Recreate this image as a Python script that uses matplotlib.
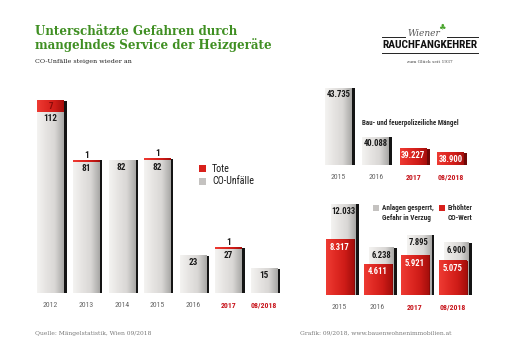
import numpy as np
import matplotlib
matplotlib.use('Agg')
import matplotlib.pyplot as plt
from matplotlib import font_manager
from matplotlib.colors import LinearSegmentedColormap
from matplotlib.patches import Rectangle

W, H = 512, 362

# --- data ---
years_l = ['2012', '2013', '2014', '2015', '2016', '2017', '08/2018']
co_unfaelle = [112, 81, 82, 82, 23, 27, 15]
tote = [7, 1, 0, 1, 0, 1, 0]

years_r = ['2015', '2016', '2017', '08/2018']
maengel = [43735, 40088, 39227, 38900]
gesperrt = [12033, 6238, 7895, 6900]
co_wert = [8317, 4611, 5921, 5075]

GREEN = '#3f8f22'
RED = '#d8201b'
SERIF = ['DejaVu Serif']

# pick a condensed family if one is installed, else shrink DejaVu Sans
installed = {f.name for f in font_manager.fontManager.ttflist}
narrow_name = None
for cand in ['Liberation Sans Narrow', 'DejaVu Sans Condensed', 'Roboto Condensed',
             'Open Sans Condensed', 'Noto Sans Condensed', 'Arial Narrow']:
    if cand in installed:
        narrow_name = cand
        break
NARROW = [narrow_name or 'DejaVu Sans', 'DejaVu Sans']
NS = 1.0 if narrow_name else 0.82   # size factor for narrow text

gray_cm = LinearSegmentedColormap.from_list('g', ['#f4f3f1', '#e6e4e2', '#d9d7d5', '#a9a8a6'])
red_cm = LinearSegmentedColormap.from_list('r', ['#ee3b33', '#e02a24', '#cf1c18', '#a50f0c'])
grad = np.linspace(0, 1, 64).reshape(1, -1)


def fmt(v):
    return f'{v:,}'.replace(',', '.')


def px_axes(l, t, r, b):
    ax = fig.add_axes([l / W, 1 - b / H, (r - l) / W, (b - t) / H])
    ax.set_axis_off()
    return ax


def ftext(x, y, s, **kw):
    fig.text(x / W, 1 - y / H, s, **kw)


def fbox(x0, y0, x1, y1, color):
    fig.add_artist(Rectangle((x0 / W, 1 - y1 / H), (x1 - x0) / W, (y1 - y0) / H,
                             transform=fig.transFigure, color=color, lw=0))


def bar3d(ax, x, y0, h, w, cmap, shadow='#141414', sh=0.08, z=2):
    if shadow:
        ax.add_patch(Rectangle((x - w / 2 + sh, y0), w, h, color=shadow, lw=0, zorder=z - 0.5))
    ax.imshow(grad, cmap=cmap, extent=[x - w / 2, x + w / 2, y0, y0 + h],
              aspect='auto', zorder=z, interpolation='bilinear')


def year_labels(ax, years, y_px_off):
    for i, yr in enumerate(years):
        red = yr in ('2017', '08/2018')
        ax.annotate(yr, (i, 0), xycoords=('data', 'axes fraction'),
                    xytext=(0, -y_px_off * 0.72), textcoords='offset points',
                    ha='center', va='center', fontsize=5.6 * NS, family=NARROW,
                    color='#c8161d' if red else '#666666',
                    fontweight='bold' if red else 'normal')


fig = plt.figure(figsize=(W / 100, H / 100), dpi=100)
fig.patch.set_facecolor('white')

# --- left chart: CO-Unfaelle and Tote ---
ax1 = px_axes(25.6, 91, 289, 293)
for i, (c, t) in enumerate(zip(co_unfaelle, tote)):
    bar3d(ax1, i, 0, c + t, 0.74, gray_cm)
    if t:
        ax1.imshow(grad, cmap=red_cm, extent=[i - 0.37, i + 0.37, c, c + t],
                   aspect='auto', zorder=3)
    ax1.annotate(str(c), (i, c), xytext=(0, -1.5), textcoords='offset points',
                 ha='center', va='top', fontsize=6.6 * NS, fontweight='bold',
                 family=NARROW, color='#1a1a1a', zorder=5)
    if t > 2:
        ax1.annotate(str(t), (i, c + t / 2), ha='center', va='center', fontsize=6.6 * NS,
                     fontweight='bold', family=NARROW, color='#8a0c0a', zorder=5)
    elif t:
        ax1.annotate(str(t), (i, c + t), xytext=(0, 0.5), textcoords='offset points',
                     ha='center', va='bottom', fontsize=6.6 * NS, fontweight='bold',
                     family=NARROW, color='#1a1a1a', zorder=5)
ax1.set_xlim(-0.7, 6.7)
ax1.set_ylim(0, 125)
year_labels(ax1, years_l, 12)

# legend left
fbox(199, 165, 206, 172, RED)
fbox(199, 178, 206, 185, '#c4c2c0')
ftext(212, 168.5, 'Tote', fontsize=7.2 * NS, family=NARROW, va='center', color='#1a1a1a')
ftext(212, 181.5, 'CO-Unfälle', fontsize=7.2 * NS, family=NARROW, va='center',
      color='#1a1a1a')

# --- top right: Bau- und feuerpolizeiliche Maengel ---
ax2 = px_axes(312.4, 78, 476.6, 165)
base = 38000
for i, v in enumerate(maengel):
    is_red = i >= 2
    bar3d(ax2, i, base, v - base, 0.72, red_cm if is_red else gray_cm,
          shadow='#6e0907' if is_red else '#141414')
    ax2.annotate(fmt(v), (i, v), xytext=(0, -1.5), textcoords='offset points',
                 ha='center', va='top', fontsize=6.2 * NS, fontweight='bold', family=NARROW,
                 color='white' if is_red else '#1a1a1a', zorder=5)
ax2.set_xlim(-0.7, 3.7)
ax2.set_ylim(base, 44500)
year_labels(ax2, years_r, 12)
ftext(362, 123, 'Bau- und feuerpolizeiliche Mängel', fontsize=5 * NS, family=NARROW,
      fontweight='bold', va='center', color='#2a2a2a')

# --- bottom right: gesperrt vs erhoehter CO-Wert ---
ax3 = px_axes(313, 190, 479, 295)
ax3r = px_axes(313, 190, 479, 295)
for i, (g, r) in enumerate(zip(gesperrt, co_wert)):
    bar3d(ax3, i + 0.11, 0, g, 0.66, gray_cm)
    ax3.annotate(fmt(g), (i + 0.11, g), xytext=(0, -2), textcoords='offset points',
                 ha='center', va='top', fontsize=6.2 * NS, fontweight='bold', family=NARROW,
                 color='#1a1a1a', zorder=5)
    bar3d(ax3r, i, 0, r, 0.72, red_cm, shadow='#8a0b09', sh=0.05)
    ax3r.annotate(fmt(r), (i, r), xytext=(0, -2.5), textcoords='offset points',
                  ha='center', va='top', fontsize=6.2 * NS, fontweight='bold', family=NARROW,
                  color='white', zorder=5)
for a, top in ((ax3, 13900), (ax3r, 15620)):
    a.set_xlim(-0.7, 3.7)
    a.set_ylim(0, top)
year_labels(ax3, years_r, 12)

# legend bottom right
fbox(373, 205, 379, 211, '#c4c2c0')
fbox(439, 205, 445, 211, RED)
for y, a, b in ((208, 'Anlagen gesperrt,', 'Erhöhter'), (218, 'Gefahr in Verzug', 'CO-Wert')):
    ftext(382, y, a, fontsize=5.2 * NS, family=NARROW, fontweight='bold',
          va='center', color='#2a2a2a')
    ftext(448, y, b, fontsize=5.2 * NS, family=NARROW, fontweight='bold',
          va='center', color='#2a2a2a')

# --- titles ---
ftext(35, 25, 'Unterschätzte Gefahren durch\nmangelndes Service der Heizgeräte',
      fontsize=8.6, fontweight='bold', family=SERIF, color=GREEN, va='top',
      linespacing=1.05)
ftext(35, 62, 'CO-Unfälle steigen wieder an', fontsize=4.6, family=SERIF,
      color='#222222', va='center')

# logo
ftext(424, 33, 'Wiener', fontsize=6.5, family=SERIF, style='italic', color='#555555',
      ha='center', va='center')
ftext(442, 27, '♣', fontsize=6, color='#4aa52e', ha='center', va='center')
fig.add_artist(plt.Line2D([382 / W, 405 / W], [1 - 37 / H] * 2, color='#222', lw=0.7))
fig.add_artist(plt.Line2D([447 / W, 478 / W], [1 - 37 / H] * 2, color='#222', lw=0.7))
ftext(430, 45, 'RAUCHFANGKEHRER', fontsize=8.2 * NS, family=NARROW, fontweight='bold',
      color='#111111', ha='center', va='center')
fig.add_artist(plt.Line2D([382 / W, 478 / W], [1 - 53 / H] * 2, color='#222', lw=0.7))
ftext(430, 62, 'zum Glück seit 1937', fontsize=3.2, family=SERIF, color='#444444',
      ha='center', va='center')

# footer
ftext(35, 333, 'Quelle: Mängelstatistik, Wien 09/2018', fontsize=4.3, family=SERIF,
      color='#777777', va='center')
ftext(300, 333, 'Grafik: 09/2018, www.bauenwohnenimmobilien.at', fontsize=4.3,
      family=SERIF, color='#777777', va='center')

fig.savefig('out.png', dpi=100, facecolor='white')
